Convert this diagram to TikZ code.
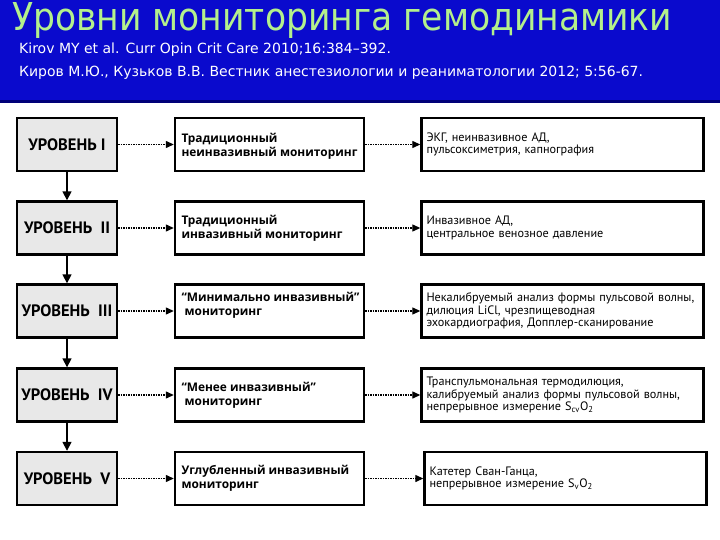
\documentclass[tikz,border=0pt]{standalone}
\usepackage{fontspec}
\setmainfont{PT Sans}
\newfontfamily\titlefont[FakeStretch=0.9]{DejaVu Sans}
\newfontfamily\reffont{DejaVu Sans}
\newfontfamily\midfont{Open Sans}
\usetikzlibrary{arrows.meta}
\definecolor{bandblue}{RGB}{10,10,205}
\definecolor{banddark}{RGB}{0,0,120}
\definecolor{titlegreen}{RGB}{180,240,140}
\definecolor{levelfill}{RGB}{232,232,232}
\tikzset{
  levelbox/.style={draw=black, line width=2.4pt, fill=levelfill, minimum width=100pt, minimum height=53pt, inner sep=0pt, font=\fontsize{16.5}{18}\selectfont\bfseries},
  midbox/.style={draw=black, line width=2.4pt, fill=white, minimum width=189pt, minimum height=53pt, inner sep=0pt},
  midtext/.style={anchor=west, align=left, inner sep=0pt, font=\midfont\fontsize{11.9}{13.7}\selectfont\bfseries},
  infobox/.style={draw=black, line width=2.4pt, fill=white, minimum width=282pt, minimum height=53pt, text width=272pt, align=left, inner xsep=5pt, inner ysep=0pt, font=\fontsize{12.2}{12.4}\selectfont},
  dotarrow/.style={line width=1.3pt, dash pattern=on 1.5pt off 1pt, -{Triangle[length=8pt,width=7pt]}},
  downarrow/.style={line width=1.6pt, -{Triangle[length=9pt,width=9pt]}}
}
\begin{document}
\begin{tikzpicture}[x=1pt,y=-1pt]
\useasboundingbox (0,0) rectangle (720,540);
\fill[white] (0,0) rectangle (720,540);
\fill[bandblue] (0,0) rectangle (720,101);
\fill[banddark] (0,100) rectangle (720,103);
\node[anchor=west, inner sep=0pt, text=titlegreen, font=\titlefont\fontsize{38.4}{40}\selectfont] (title) at (12,20) {Уровни мониторинга гемодинамики};
\node[anchor=west, inner sep=0pt, text=white, font=\reffont\fontsize{14}{15}\selectfont] (ref1) at (19,50) {Kirov MY et al. Curr Opin Crit Care 2010;16:384–392.};
\node[anchor=west, inner sep=0pt, text=white, font=\reffont\fontsize{14}{15}\selectfont] (ref2) at (19,73) {Киров М.Ю., Кузьков В.В. Вестник анестезиологии и реаниматологии 2012; 5:56-67.};

% level boxes
\node[levelbox] (l1) at (67,144.5) {УРОВЕНЬ I};
\node[levelbox] (l2) at (67,228) {УРОВЕНЬ\ \ II};
\node[levelbox] (l3) at (67,311) {УРОВЕНЬ\ \ III};
\node[levelbox] (l4) at (67,395) {УРОВЕНЬ\ \ IV};
\node[levelbox] (l5) at (67,478.5) {УРОВЕНЬ\ \ V};

% middle boxes
\node[midbox] (m1) at (269.5,144.5) {};
\node[midbox] (m2) at (269.5,228) {};
\node[midbox] (m3) at (269.5,311) {};
\node[midbox] (m4) at (269.5,395) {};
\node[midbox] (m5) at (269.5,478.5) {};
\node[midtext] (t1) at ([xshift=7.5pt,yshift=-2pt]m1.west) {Традиционный\\неинвазивный мониторинг};
\node[midtext] (t2) at ([xshift=7.5pt]m2.west) {Традиционный\\инвазивный мониторинг};
\node[midtext] (t3) at ([xshift=7.5pt,yshift=6pt]m3.west) {“Минимально инвазивный”\\\ мониторинг};
\node[midtext] (t4) at ([xshift=7.5pt]m4.west) {“Менее инвазивный”\\\ мониторинг};
\node[midtext] (t5) at ([xshift=7.5pt]m5.west) {Углубленный инвазивный\\мониторинг};

% info boxes
\node[infobox] (r1) at (562.5,144.5) {ЭКГ, неинвазивное АД,\\пульсоксиметрия, капнография\\[2pt]};
\node[infobox] (r2) at (562.5,228) {Инвазивное АД,\\центральное венозное давление};
\node[infobox] (r3) at (562.5,311) {Некалибруемый анализ формы пульсовой волны,\\дилюция LiCl, чрезпищеводная\\эхокардиография, Допплер-сканирование};
\node[infobox] (r4) at (562.5,395) {Транспульмональная термодилюция,\\калибруемый анализ формы пульсовой волны,\\непрерывное измерение S\textsubscript{cv}O\textsubscript{2}};
\node[infobox] (r5) at (565.5,478.5) {Катетер Сван-Ганца,\\непрерывное измерение S\textsubscript{v}O\textsubscript{2}};

% arrows
\foreach \i in {1,...,5}{
  \draw[dotarrow] (l\i.east) -- (m\i.west);
  \draw[dotarrow] (m\i.east) -- (r\i.west);
}
\foreach \i/\j in {1/2,2/3,3/4,4/5}{
  \draw[downarrow] (l\i.south) -- (l\j.north);
}
\end{tikzpicture}
\end{document}
